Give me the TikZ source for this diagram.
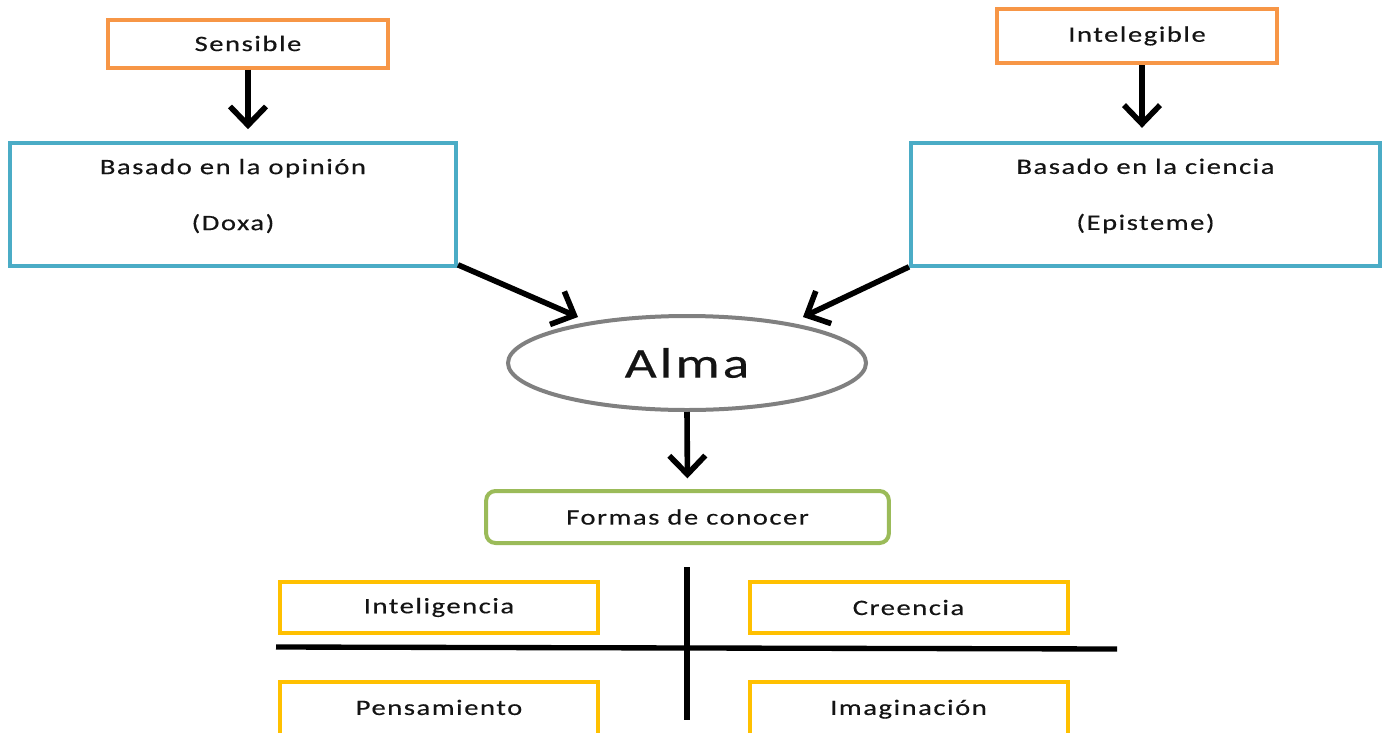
\documentclass[tikz,border=0pt]{standalone}
\usepackage{fontspec}
\setmainfont{Carlito}[FakeStretch=1.3]
\newfontfamily\spacedfont{Carlito}[FakeStretch=1.3, LetterSpace=7, FakeBold=0.4]
\usetikzlibrary{arrows.meta,calc,shapes.geometric}
\definecolor{boxorange}{HTML}{F79646}
\definecolor{boxblue}{HTML}{4BACC6}
\definecolor{boxgray}{HTML}{808080}
\definecolor{boxgreen}{HTML}{9BBB59}
\definecolor{boxyellow}{HTML}{FFC000}
\definecolor{ink}{HTML}{141414}
\tikzset{
  every node/.style={text=ink, font=\spacedfont\fontsize{16.5}{19}\selectfont},
  boxbase/.style={draw, rectangle, line width=3pt, fill=white, inner sep=0pt},
  topbox/.style={boxbase, draw=boxorange, minimum width=210pt, minimum height=36pt},
  midbox/.style={boxbase, draw=boxblue, minimum height=92pt},
  formbox/.style={boxbase, draw=boxgreen, rounded corners=7pt, minimum width=302pt, minimum height=39pt},
  kindbox/.style={boxbase, draw=boxyellow, minimum width=238.5pt, minimum height=38pt},
  twoline/.style={align=center, font=\spacedfont\fontsize{16.5}{42}\selectfont},
  flow/.style={line width=4.2pt, draw=black, -{Straight Barb[length=14pt, width=27pt, line width=4.2pt]}},
  rule/.style={line width=4pt, draw=black}
}
\begin{document}
\begin{tikzpicture}[x=0.75pt, y=-0.75pt]
  \useasboundingbox (0,0) rectangle (1387,732);
  \clip (0,0) rectangle (1387,732);

  % upper sources
  \node[topbox] (sensible) at (248,43.5) {Sensible};
  \node[topbox, minimum height=40.5pt] (intel) at (1137,36) {Intelegible};

  % two kinds of knowledge
  \node[midbox, minimum width=334.5pt] (doxa) at (233,204.5) {};
  \node[twoline] (doxatext) at (233,196) {Basado en la opinión\\(Doxa)};
  \node[midbox, minimum width=351.75pt] (episteme) at (1145.5,204.5) {};
  \node[twoline] (epistemetext) at (1145.5,196) {Basado en la ciencia\\(Episteme)};

  % soul
  \node[draw=boxgray, ellipse, line width=3pt, inner sep=0pt,
        minimum width=268.5pt, minimum height=70.5pt,
        font=\spacedfont\fontsize{32}{38}\selectfont] (alma) at (687,363) {Alma};

  \node[formbox] (formas) at (687.5,517) {Formas de conocer};

  % four ways of knowing
  \node[kindbox] (intelig) at (439,607.5) {Inteligencia};
  \node[kindbox] (creen) at (908.5,607.5) {Creencia};
  \node[kindbox, minimum height=45pt, text depth=0pt] (pens) at (439,712) {\raisebox{7pt}{Pensamiento}};
  \node[kindbox, minimum height=45pt, text depth=0pt] (imag) at (908.5,712) {\raisebox{7pt}{Imaginación}};

  % connectors
  \draw[flow, shorten >=9pt] (sensible.south) -- (sensible.south |- doxa.north);
  \draw[flow, shorten >=10pt] ([xshift=3.75pt]intel.south) -- ([xshift=3.75pt]intel.south |- episteme.north);
  \coordinate (almaL) at ($(alma.center)+(-109,-46)$);
  \coordinate (almaR) at ($(alma.center)+(116,-46)$);
  \draw[flow] ([shift={(0,-3)}]doxa.south east) -- (almaL);
  \draw[flow] ([shift={(0,-1)}]episteme.south west) -- (almaR);
  \draw[flow, shorten >=8pt] (alma.south) -- (formas.north);

  % dividing cross
  \coordinate (vtop) at (687,567);
  \coordinate (vbot) at (687,720);
  \coordinate (hleft) at (276,647);
  \coordinate (hright) at (1117,649);
  \draw[rule] (vtop) -- (vbot);
  \draw[rule] (hleft) -- (hright);
\end{tikzpicture}
\end{document}
